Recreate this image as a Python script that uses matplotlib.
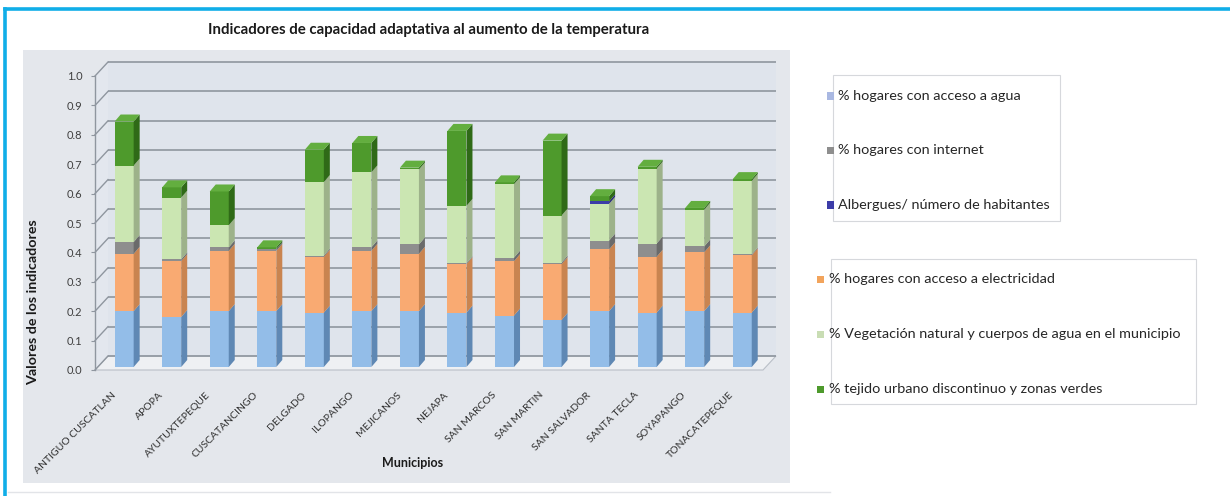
import matplotlib
matplotlib.use("Agg")
import matplotlib.pyplot as plt
from matplotlib.patches import Rectangle, Polygon
from matplotlib.lines import Line2D
from matplotlib.transforms import ScaledTranslation
import numpy as np

plt.rcParams["font.family"] = ["Lato", "DejaVu Sans"]

# ---- data -------------------------------------------------------------
municipios = ["ANTIGUO CUSCATLAN", "APOPA", "AYUTUXTEPEQUE", "CUSCATANCINGO",
              "DELGADO", "ILOPANGO", "MEJICANOS", "NEJAPA", "SAN MARCOS",
              "SAN MARTIN", "SAN SALVADOR", "SANTA TECLA", "SOYAPANGO",
              "TONACATEPEQUE"]
agua = [0.19, 0.17, 0.19, 0.19, 0.185, 0.19, 0.19, 0.185, 0.175, 0.16, 0.19, 0.185, 0.19, 0.185]
electricidad = [0.195, 0.19, 0.205, 0.205, 0.19, 0.205, 0.195, 0.165, 0.185, 0.19, 0.21, 0.19, 0.20, 0.195]
internet = [0.04, 0.006, 0.012, 0.006, 0.004, 0.012, 0.032, 0.003, 0.012, 0.005, 0.03, 0.045, 0.02, 0.003]
vegetacion = [0.26, 0.21, 0.075, 0.0, 0.25, 0.255, 0.255, 0.195, 0.25, 0.16, 0.125, 0.255, 0.125, 0.25]
albergues = [0.0, 0.0, 0.0, 0.0, 0.0, 0.0, 0.0, 0.0, 0.0, 0.0, 0.008, 0.0, 0.0, 0.0]
tejido = [0.15, 0.035, 0.115, 0.006, 0.11, 0.10, 0.006, 0.255, 0.006, 0.255, 0.018, 0.006, 0.006, 0.006]

series_vals = [agua, electricidad, internet, vegetacion, albergues, tejido]
face_colors = ["#93BDE8", "#F9AA72", "#8E8E8E", "#CBE6B2", "#3C3CA8", "#4E9A2C"]
side_colors = ["#5F88B4", "#C98450", "#6A6A6A", "#9DB28A", "#28287A", "#2F6A17"]
top_colors = ["#A9CBEE", "#FBC096", "#A8A8A8", "#DDEFCB", "#5555C0", "#63AE3F"]

legend1 = ["% hogares con acceso a agua", "% hogares con internet",
           "Albergues/ número de habitantes"]
legend1_colors = ["#A9B8E2", "#8E8E8E", "#3C3CA8"]
legend2 = ["% hogares con acceso a electricidad",
           "% Vegetación natural y cuerpos de agua en el municipio",
           "% tejido urbano discontinuo y zonas verdes"]
legend2_colors = ["#F2A45C", "#C9DDB4", "#4E9A2C"]

title = "Indicadores de capacidad adaptativa al aumento de la temperatura"
yticks = np.round(np.arange(0, 1.01, 0.1), 1)

# ---- figure ----------------------------------------------------------
W, H = 1230, 496
fig = plt.figure(figsize=(W / 100, H / 100), dpi=100)
fig.patch.set_facecolor("white")


def fbox(x0, y0, x1, y1, **kw):
    """Rectangle in pixel coordinates (origin top-left)."""
    r = Rectangle((x0 / W, 1 - y1 / H), (x1 - x0) / W, (y1 - y0) / H,
                  transform=fig.transFigure, **kw)
    fig.add_artist(r)
    return r


# frame lines
fig.add_artist(Line2D([5 / W, 1], [1 - 9 / H, 1 - 9 / H], transform=fig.transFigure,
                      color="#10AEE8", lw=2.6))
fig.add_artist(Line2D([5 / W, 5 / W], [0, 1 - 9 / H], transform=fig.transFigure,
                      color="#10AEE8", lw=2.6))
fig.add_artist(Line2D([8 / W, 830 / W], [1 - 492 / H, 1 - 492 / H], transform=fig.transFigure,
                      color="#E2E4E8", lw=1.0))

# chart area
fbox(23, 50, 790, 483, facecolor="#E4E7EC", edgecolor="none", zorder=0)

fig.text(429 / W, 1 - 30 / H, title, ha="center", va="center",
         fontsize=10.8, fontweight="bold", color="#1A1A1A")

# ---- plot area -------------------------------------------------------
ax = fig.add_axes([95 / W, 126 / H, 668 / W, 294 / H])
x0, x1 = -0.55, 13.5
ax.set_xlim(x0, x1)
ax.set_ylim(0, 1)
ax.patch.set_visible(False)
for s in ax.spines.values():
    s.set_visible(False)

ppx = ax.bbox.width / (x1 - x0)
ppy = ax.bbox.height / 1.0
ux = lambda p: p / ppx
uy = lambda p: p / ppy

# wall depth
WX, WY = ux(13), uy(14)
wall_col = "#DFE4EC"
grid_col = "#8F969F"

ax.add_patch(Polygon([(x0, 0), (x0 + WX, WY), (x0 + WX, 1 + WY), (x0, 1)],
                     closed=True, facecolor="#E3E7EE", edgecolor="none",
                     clip_on=False, zorder=0))
ax.add_patch(Rectangle((x0 + WX, WY), x1 - x0, 1, facecolor=wall_col,
                       edgecolor="none", clip_on=False, zorder=0))
ax.add_patch(Polygon([(x0, 0), (x1, 0), (x1 + WX, WY), (x0 + WX, WY)],
                     closed=True, facecolor="#EEF0F3", edgecolor="#B9BFC7",
                     lw=0.8, clip_on=False, zorder=0.5))
for t in yticks:
    ax.plot([x0 + WX, x1 + WX], [t + WY, t + WY], color=grid_col, lw=1.2,
            clip_on=False, zorder=0.6, solid_capstyle="butt")
    ax.plot([x0, x0 + WX], [t, t + WY], color=grid_col, lw=1.0,
            clip_on=False, zorder=0.6)
ax.plot([x0, x0], [0, 1], color=grid_col, lw=1.0, clip_on=False, zorder=0.6)

# ---- 3D stacked columns ---------------------------------------------
BX, BY = ux(3), uy(3)      # bars set back from the front edge
DX, DY = ux(6), uy(7)      # bar depth
bw = 0.40
xs = np.arange(len(municipios))
bottoms = np.zeros(len(municipios))
last_top_color = [None] * len(municipios)

for vals, fc, sc, tc in zip(series_vals, face_colors, side_colors, top_colors):
    vals = np.asarray(vals, dtype=float)
    ax.bar(xs + BX, vals, width=bw, bottom=bottoms + BY, color=fc,
           edgecolor="none", zorder=2)
    for i, (x, b, v) in enumerate(zip(xs, bottoms, vals)):
        if v <= 0:
            continue
        xr = x + bw / 2 + BX
        ax.add_patch(Polygon([(xr, b + BY), (xr + DX, b + BY + DY),
                              (xr + DX, b + v + BY + DY), (xr, b + v + BY)],
                             closed=True, facecolor=sc, edgecolor="none",
                             zorder=2, clip_on=False))
        last_top_color[i] = tc
    bottoms = bottoms + vals

for i, (x, top) in enumerate(zip(xs, bottoms)):
    xl, xr = x - bw / 2 + BX, x + bw / 2 + BX
    ax.add_patch(Polygon([(xl, top + BY), (xr, top + BY), (xr + DX, top + BY + DY),
                          (xl + DX, top + BY + DY)], closed=True,
                         facecolor=last_top_color[i], edgecolor="none",
                         zorder=2, clip_on=False))

# ---- ticks & labels --------------------------------------------------
ax.set_yticks(yticks)
ax.set_yticklabels([f"{t:.1f}" for t in yticks])
ax.tick_params(axis="y", length=3, width=0.8, color=grid_col, pad=6,
               labelsize=8, labelcolor="#404040")
ax.set_xticks(xs)
ax.set_xticklabels(municipios, rotation=45, ha="right", va="center",
                   rotation_mode="anchor")
ax.tick_params(axis="x", length=0, pad=17, labelsize=7.5, labelcolor="#303030")
shift = ScaledTranslation(-7 / 100, 0, fig.dpi_scale_trans)
for lab in ax.get_xticklabels():
    lab.set_transform(lab.get_transform() + shift)

fig.text(33 / W, 1 - 302 / H, "Valores de los indicadores", rotation=90,
         ha="center", va="center", fontsize=10.3, fontweight="bold", color="#1A1A1A")
fig.text(413 / W, 1 - 463 / H, "Municipios", ha="center", va="center",
         fontsize=9, fontweight="bold", color="#1A1A1A")

# ---- legend boxes ----------------------------------------------------
fbox(833, 75, 1060, 221, facecolor="white", edgecolor="#D6D8DC", lw=0.8, zorder=1)
fbox(831, 259, 1196, 404, facecolor="white", edgecolor="#D6D8DC", lw=0.8, zorder=1)

for k, (lab, col) in enumerate(zip(legend1, legend1_colors)):
    yc = 96 + 54.5 * k
    fbox(827, yc - 3.5, 834, yc + 3.5, facecolor=col, edgecolor="none", zorder=2)
    fig.text(838 / W, 1 - yc / H, lab, ha="left", va="center", fontsize=10.4,
             color="#262626", zorder=3)

for k, (lab, col) in enumerate(zip(legend2, legend2_colors)):
    yc = 279 + 55 * k
    fbox(817, yc - 3.5, 824, yc + 3.5, facecolor=col, edgecolor="none", zorder=2)
    fig.text(829 / W, 1 - yc / H, lab, ha="left", va="center", fontsize=10.4,
             color="#262626", zorder=3)

fig.savefig("out.png", dpi=100)
